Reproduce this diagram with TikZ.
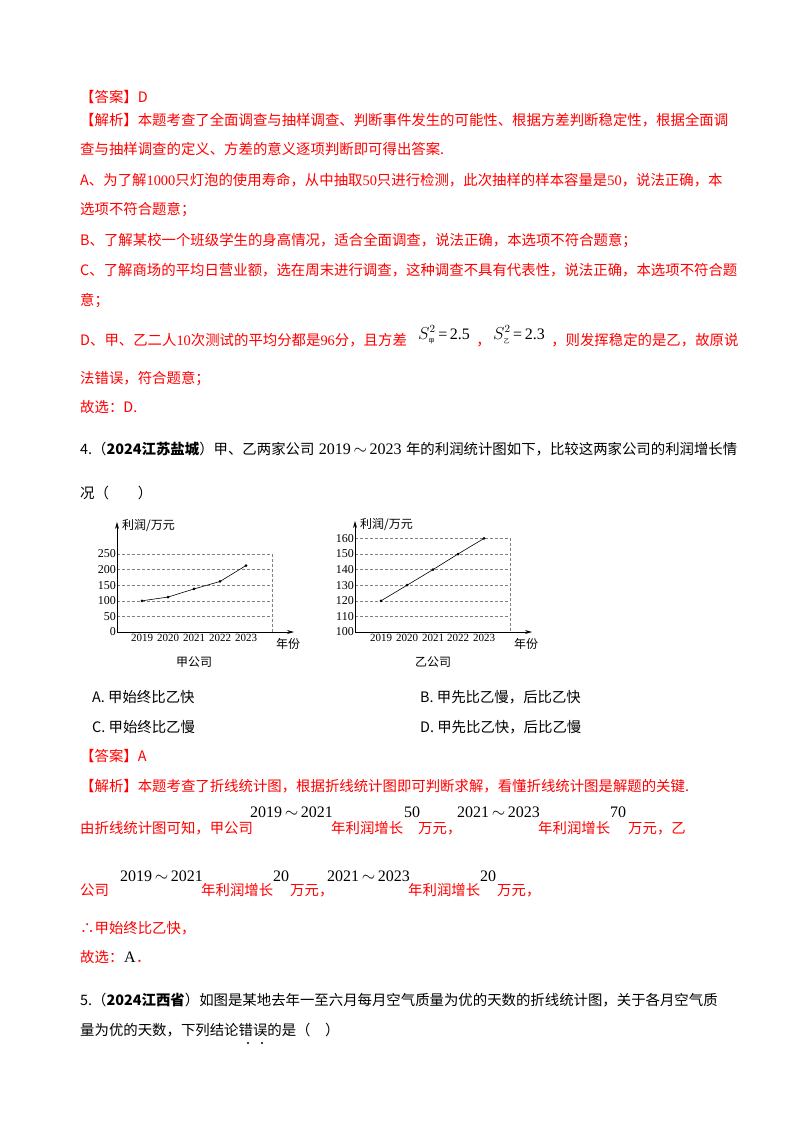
\documentclass[tikz,border=0pt]{standalone}
\usepackage{fontspec}
\setmainfont{Liberation Serif}
\newfontfamily\cjk{Noto Sans CJK SC}
\usetikzlibrary{arrows.meta}
\newcommand{\R}[1]{{\rmfamily #1}}
\newcommand{\rng}[2]{{\rmfamily #1\,$\sim$\,#2}}
\begin{document}
\begin{tikzpicture}[x=1pt,y=-1pt,
  t/.style={anchor=base west,inner sep=0,font=\cjk\fontsize{14.4}{16}\selectfont},
  rt/.style={t,text=red},
  m/.style={anchor=base west,inner sep=0,font=\rmfamily\fontsize{16}{18}\selectfont},
  ax/.style={line width=0.8pt,-{Stealth[length=7pt,width=4pt]}},
  gd/.style={densely dashed,line width=0.4pt,gray},
  cl/.style={font=\rmfamily\fontsize{12}{14}\selectfont,inner sep=1pt},
  cy/.style={font=\rmfamily\fontsize{11}{13}\selectfont,inner sep=1pt},
  ck/.style={font=\cjk\fontsize{12}{13}\selectfont,inner sep=1pt}]
\useasboundingbox (0,0) rectangle (800,1132);
\node[rt] (l1) at (80,102) {【答案】D};
\node[rt] (l2) at (80,125) {【解析】本题考查了全面调查与抽样调查、判断事件发生的可能性、根据方差判断稳定性，根据全面调};
\node[rt] (l3) at (80,154) {查与抽样调查的定义、方差的意义逐项判断即可得出答案.};
\node[rt] (l4) at (80,185) {A、为了解\R{1000}只灯泡的使用寿命，从中抽取\R{50}只进行检测，此次抽样的样本容量是\R{50}，说法正确，本};
\node[rt] (l5) at (80,214) {选项不符合题意；};
\node[rt] (l6) at (80,245) {B、了解某校一个班级学生的身高情况，适合全面调查，说法正确，本选项不符合题意；};
\node[rt] (l7) at (80,275) {C、了解商场的平均日营业额，选在周末进行调查，这种调查不具有代表性，说法正确，本选项不符合题};
\node[rt] (l8) at (80,305) {意；};
\node[rt] (l9) at (80,345) {D、甲、乙二人\R{10}次测试的平均分都是\R{96}分，且方差};
\node[m] (s1) at (418,339) {$S^2_{\hbox{\cjk\fontsize{6}{6}\selectfont 甲}}$\,=\,2.5};
\node[rt] (c1) at ([xshift=6pt]s1.east |- 0,345) {，};
\node[m] (s2) at ([xshift=2pt]c1.east |- 0,339) {$S^2_{\hbox{\cjk\fontsize{6}{6}\selectfont 乙}}$\,=\,2.3};
\node[rt] (l9b) at ([xshift=6pt]s2.east |- 0,345) {，则发挥稳定的是乙，故原说};
\node[rt] (l10) at (80,383) {法错误，符合题意；};
\node[rt] (l11) at (80,412) {故选：D.};
\node[t] (q4) at (80,454) {4.（\textbf{2024江苏盐城}）甲、乙两家公司};
\node[m] (q4m) at ([xshift=4pt]q4.east |- 0,454) {\rng{2019}{2023}};
\node[t] (q4b) at ([xshift=4pt]q4m.east |- 0,454) {年的利润统计图如下，比较这两家公司的利润增长情};
\node[t] (q4c) at (80,498) {况（　　）};
% left chart
\foreach \v/\y in {50/616.4,100/600.8,150/585.2,200/569.6,250/554}{
  \draw[gd] (117,\y) -- (272,\y);
  \node[cl,anchor=east] (ly\v) at (117,\y) {\v};}
\node[cl,anchor=east] (ly0) at (117,632) {0};
\draw[gd] (272,554) -- (272,632);
\coordinate (lo) at (117,632);
\coordinate (lyt) at (117,522);
\coordinate (lxt) at (294,632);
\draw[ax] (lo) -- (lyt);
\draw[ax] (lo) -- (lxt);
\foreach \x/\yr in {142/2019,168/2020,194/2021,220/2022,246/2023}
  \node[cy,anchor=north] (lx\yr) at (\x,633) {\yr};
\foreach \n/\x/\v in {a/142/100,b/168/112,c/194/138,d/220/162,e/246/213}
  \fill (\x,{632-\v*0.312}) circle (1.5pt) coordinate (p\n);
\draw[line width=0.6pt] (pa) -- (pb) -- (pc) -- (pd) -- (pe);
\node[ck,anchor=west] (lyl) at (121,526) {利润/万元};
\node[ck] (lxl) at (288,644) {年份};
\node[ck] (lcap) at (194,662) {甲公司};
% right chart
\foreach \v/\y in {110/616.4,120/600.8,130/585.2,140/569.6,150/554,160/538.4}{
  \draw[gd] (355,\y) -- (510,\y);
  \node[cl,anchor=east] (ry\v) at (355,\y) {\v};}
\node[cl,anchor=east] (ry100) at (355,632) {100};
\draw[gd] (510,538.4) -- (510,632);
\coordinate (ro) at (355,632);
\coordinate (ryt) at (355,521);
\coordinate (rxt) at (532,632);
\draw[ax] (ro) -- (ryt);
\draw[ax] (ro) -- (rxt);
\foreach \x/\yr in {381/2019,407/2020,433/2021,458/2022,484/2023}
  \node[cy,anchor=north] (rx\yr) at (\x,633) {\yr};
\foreach \n/\x/\v in {a/381/120,b/407/130,c/433/140,d/458/150,e/484/160}
  \fill (\x,{632-(\v-100)*1.56}) circle (1.5pt) coordinate (q\n);
\draw[line width=0.6pt] (qa) -- (qb) -- (qc) -- (qd) -- (qe);
\node[ck,anchor=west] (ryl) at (359,525) {利润/万元};
\node[ck] (rxl) at (526,644) {年份};
\node[ck] (rcap) at (433,662) {乙公司};
% options
\node[t] (oa) at (92,702) {A. 甲始终比乙快};
\node[t] (ob) at (420,702) {B. 甲先比乙慢，后比乙快};
\node[t] (oc) at (92,732) {C. 甲始终比乙慢};
\node[t] (od) at (420,732) {D. 甲先比乙快，后比乙慢};
\node[rt] (ans) at (80,761) {【答案】A};
\node[rt] (jx) at (80,791) {【解析】本题考查了折线统计图，根据折线统计图即可判断求解，看懂折线统计图是解题的关键.};
\node[rt] (y1) at (80,833) {由折线统计图可知，甲公司};
\node[m] (y1a) at (250,817) {\rng{2019}{2021}};
\node[rt] (y1b) at (331,833) {年利润增长};
\node[m] (y1c) at (404,817) {50};
\node[rt] (y1d) at (418,833) {万元，};
\node[m] (y1e) at (457,817) {\rng{2021}{2023}};
\node[rt] (y1f) at (538,833) {年利润增长};
\node[m] (y1g) at (610,817) {70};
\node[rt] (y1h) at (628,833) {万元，乙};
\node[rt] (y2) at (80,895) {公司};
\node[m] (y2a) at (120,881) {\rng{2019}{2021}};
\node[rt] (y2b) at (201,895) {年利润增长};
\node[m] (y2c) at (273,881) {20};
\node[rt] (y2d) at (290,895) {万元，};
\node[m] (y2e) at (327,881) {\rng{2021}{2023}};
\node[rt] (y2f) at (408,895) {年利润增长};
\node[m] (y2g) at (480,881) {20};
\node[rt] (y2h) at (497,895) {万元，};
\node[rt] (th) at (80,933) {∴甲始终比乙快，};
\node[rt] (gx) at (80,962) {故选：};
\node[m] (gxa) at (124,962) {A};
\node[rt] (gxb) at (136,962) {．};
\node[t] (q5) at (80,1005) {5.（\textbf{2024江西省}）如图是某地去年一至六月每月空气质量为优的天数的折线统计图，关于各月空气质};
\node[t] (q5b) at (80,1035) {量为优的天数，下列结论错误的是（　）};
\fill (248,1043) circle (1.1pt) coordinate (d1);
\fill (262,1043) circle (1.1pt) coordinate (d2);
\end{tikzpicture}
\end{document}
